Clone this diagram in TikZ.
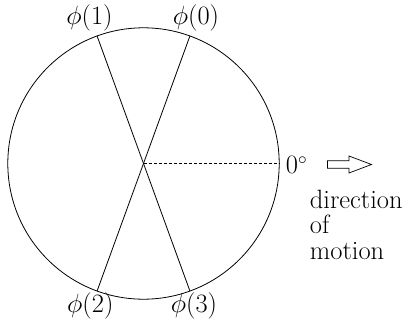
\documentclass[tikz,border=0pt]{standalone}
\usepackage{fontspec}
\usepackage{graphicx}
\newcommand{\phisym}{\scalebox{1.06}{$\phi$}}
\begin{document}
\begin{tikzpicture}[x=1pt,y=1pt,line width=0.8pt,
  lbl/.style={font=\fontsize{26.5}{26.5}\selectfont, inner sep=0pt, anchor=base},
  txt/.style={font=\fontsize{26.5}{26.5}\selectfont, inner sep=0pt, anchor=base west},
  refline/.style={dash pattern=on 3pt off 2pt}]
\useasboundingbox (0,0) rectangle (404,322);
\coordinate (c) at (143.5,158.5);
\draw (c) circle (135.7);
\path (c) ++(70:135.7) coordinate (p0);
\path (c) ++(110:135.7) coordinate (p1);
\path (c) ++(250:135.7) coordinate (p2);
\path (c) ++(290:135.7) coordinate (p3);
\path (c) ++(0:135.7) coordinate (e);
\draw (p0) -- (p2);
\draw (p1) -- (p3);
\draw[refline] (c) -- (e);
\node[lbl] (l1) at (89.5,297.5) {\phisym(1)};
\node[lbl] (l0) at (196,297.5) {\phisym(0)};
\node[lbl] (l2) at (90.3,10) {\phisym(2)};
\node[lbl] (l3) at (194,10) {\phisym(3)};
\node[txt] (deg) at (285.5,148.5) {0$^\circ$};
\draw[line width=0.7pt] (327.5,153.7) -- (349,153.7) -- (349,149) -- (371.5,157.5)
  -- (349,166) -- (349,161.3) -- (327.5,161.3) -- cycle;
\node[txt] (t1) at (309.5,114) {direction};
\node[txt] (t2) at (309.5,88.5) {of};
\node[txt] (t3) at (309.5,63) {motion};
\end{tikzpicture}
\end{document}
